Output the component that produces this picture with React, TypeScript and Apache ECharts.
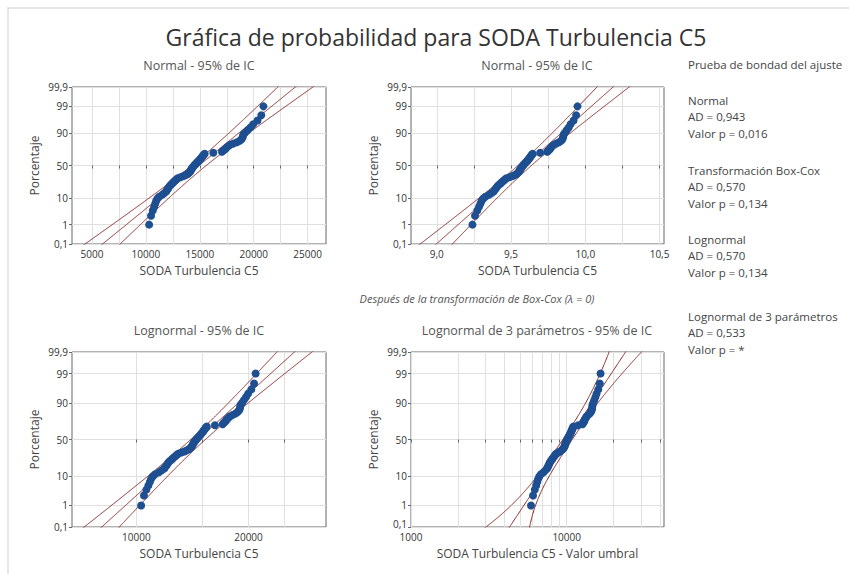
import React, { useEffect, useRef } from "react";
import * as echarts from "echarts";

// ---------------- data ----------------
const turbulence: number[] = [
  10300, 10480, 10640, 10770, 10870, 10950, 11060, 11230, 11500, 11700,
  11880, 11950, 12050, 12120, 12190, 12300, 12420, 12520, 12620, 12750,
  12850, 12950, 13200, 13450, 13650, 13850, 13950, 14050, 14100, 14150,
  14200, 14250, 14300, 14380, 14450, 14520, 14600, 14680, 14760, 14850,
  14930, 15000, 15080, 15150, 15220, 15290, 15360, 15450, 16250, 17050,
  17150, 17300, 17400, 17500, 17650, 17800, 18100, 18450, 18700, 18850,
  18950, 19000, 19050, 19250, 19450, 19700, 19950, 20350, 20700, 20900,
];
const threshold = 4400;

const probTicks = [0.1, 1, 10, 50, 90, 99, 99.9];
const probLabels = ["0,1", "1", "10", "50", "90", "99", "99,9"];

const normalLabelTicks = [5000, 10000, 15000, 20000, 25000];
const normalGridTicks = [5000, 7500, 10000, 12500, 15000, 17500, 20000, 22500, 25000];
const boxCoxLabelTicks = [9.0, 9.5, 10.0, 10.5];
const boxCoxGridTicks = [9.0, 9.25, 9.5, 9.75, 10.0, 10.25, 10.5];
const lognormalLabelTicks = [10000, 20000];
const lognormalGridTicks = [10000, 15000, 20000, 25000];
const threeParLabelTicks = [1000, 10000];
const threeParGridTicks = [1000, 2000, 3000, 4000, 5000, 6000, 7000, 8000, 9000, 10000, 20000, 30000, 40000];

const gofNames = ["Normal", "Transformación Box-Cox", "Lognormal", "Lognormal de 3 parámetros"];
const adValues = ["0,943", "0,570", "0,570", "0,533"];
const pValues = ["0,016", "0,134", "0,134", "*"];

const mainTitle = "Gráfica de probabilidad para SODA Turbulencia C5";
const panelTitles = [
  "Normal - 95% de IC",
  "Normal - 95% de IC",
  "Lognormal - 95% de IC",
  "Lognormal de 3 parámetros - 95% de IC",
];
const xNames = ["SODA Turbulencia C5", "SODA Turbulencia C5", "SODA Turbulencia C5", "SODA Turbulencia C5 - Valor umbral"];
const boxCoxNote = "Después de la transformación de Box-Cox (λ = 0)";

// ---------------- helpers ----------------
function probit(p: number): number {
  const a = [-3.969683028665376e1, 2.209460984245205e2, -2.759285104469687e2, 1.38357751867269e2, -3.066479806614716e1, 2.506628277459239];
  const b = [-5.447609879822406e1, 1.615858368580409e2, -1.556989798598866e2, 6.680131188771972e1, -1.328068155288572e1];
  const c = [-7.784894002430293e-3, -3.223964580411365e-1, -2.400758277161838, -2.549732539343734, 4.374664141464968, 2.938163982698783];
  const d = [7.784695709041462e-3, 3.224671290700398e-1, 2.445134137142996, 3.754408661907416];
  const pl = 0.02425;
  if (p < pl) {
    const q = Math.sqrt(-2 * Math.log(p));
    return (((((c[0] * q + c[1]) * q + c[2]) * q + c[3]) * q + c[4]) * q + c[5]) / ((((d[0] * q + d[1]) * q + d[2]) * q + d[3]) * q + 1);
  }
  if (p <= 1 - pl) {
    const q = p - 0.5;
    const r = q * q;
    return ((((((a[0] * r + a[1]) * r + a[2]) * r + a[3]) * r + a[4]) * r + a[5]) * q) / (((((b[0] * r + b[1]) * r + b[2]) * r + b[3]) * r + b[4]) * r + 1);
  }
  const q = Math.sqrt(-2 * Math.log(1 - p));
  return -(((((c[0] * q + c[1]) * q + c[2]) * q + c[3]) * q + c[4]) * q + c[5]) / ((((d[0] * q + d[1]) * q + d[2]) * q + d[3]) * q + 1);
}

function meanSd(v: number[]): [number, number] {
  const n = v.length;
  const m = v.reduce((s, x) => s + x, 0) / n;
  const va = v.reduce((s, x) => s + (x - m) * (x - m), 0) / n;
  return [m, Math.sqrt(va)];
}

const FONT = "'Open Sans', 'Noto Sans', sans-serif";
const LINE_COLOR = "#8a2a2a";
const POINT_COLOR = "#1d4f91";

export default function App() {
  const ref = useRef<HTMLDivElement>(null);

  useEffect(() => {
    if (!ref.current) return;
    const chart = echarts.init(ref.current, undefined, { renderer: "svg" });

    const sorted = [...turbulence].sort((a, b) => a - b);
    const n = sorted.length;
    const zPts = sorted.map((_, i) => probit((i + 1 - 0.3) / (n + 0.4)));
    const probZ = probTicks.map((p) => probit(p / 100));
    const zMin = probZ[0];
    const zMax = probZ[probZ.length - 1];
    const zLine: number[] = [];
    for (let k = -170; k <= 170; k++) zLine.push(k * 0.02);

    const normalBands = (vals: number[], toAxis: (x: number) => number) => {
      const [m, s] = meanSd(vals);
      const fit: number[][] = [], lo: number[][] = [], hi: number[][] = [];
      zLine.forEach((z) => {
        const c = m + z * s;
        const hw = 1.96 * s * Math.sqrt((1 + (z * z) / 2) / n);
        fit.push([toAxis(c), z]);
        lo.push([toAxis(c - hw), z]);
        hi.push([toAxis(c + hw), z]);
      });
      return [fit, lo, hi];
    };

    const lnVals = sorted.map((v) => Math.log(v));
    const bands1 = normalBands(sorted, (x) => x);
    const bands2 = normalBands(lnVals, (x) => x);
    const bands3 = normalBands(lnVals, (x) => x / Math.LN10);

    // 3-parameter lognormal: CI of ln(percentile) with expected-information covariance
    const shifted = sorted.map((v) => Math.log(v - threshold));
    const [mu, sg] = meanSd(shifted);
    const w = sg * sg;
    const E1 = Math.exp(-mu + w / 2);
    const E2 = Math.exp(-2 * mu + w);
    const D = E2 * ((Math.exp(w) * (1 + w) - 1) / w - 2);
    const bd = E1;
    const cf = -sg * E1;
    const Vtt = 1 / (D * n);
    const Vtm = -bd / (D * n);
    const Vts = -cf / (D * n);
    const Vmm = (w + (bd * bd) / D) / n;
    const Vss = (w / 2 + (cf * cf) / D) / n;
    const Vms = (bd * cf) / (D * n);
    const fit4: number[][] = [], lo4: number[][] = [], hi4: number[][] = [];
    zLine.forEach((z) => {
      const e = Math.exp(mu + sg * z);
      const xp = threshold + e;
      const s2 = Vtt + 2 * e * (Vtm + z * Vts) + e * e * (Vmm + 2 * z * Vms + z * z * Vss);
      const k = (1.96 * Math.sqrt(Math.max(s2, 0))) / xp;
      const U = xp * Math.exp(k) - threshold;
      const L = xp * Math.exp(-k) - threshold;
      fit4.push([Math.log10(e), z]);
      if (U > 0) hi4.push([Math.log10(U), z]);
      if (L > 0) lo4.push([Math.log10(L), z]);
    });

    const pts1 = sorted.map((v, i) => [v, zPts[i]]);
    const pts2 = sorted.map((v, i) => [Math.log(v), zPts[i]]);
    const pts3 = sorted.map((v, i) => [Math.log10(v), zPts[i]]);
    const pts4 = sorted.map((v, i) => [Math.log10(v - threshold), zPts[i]]);

    const grids = [
      { left: 72, top: 87, width: 254, height: 157 },
      { left: 411, top: 87, width: 253, height: 157 },
      { left: 72, top: 352, width: 254, height: 175 },
      { left: 411, top: 352, width: 253, height: 175 },
    ].map((g) => ({ ...g, show: true, borderColor: "#666666", borderWidth: 1, backgroundColor: "#ffffff" }));

    const near = (a: number, b: number) => Math.abs(a - b) < 1e-6;

    const yAxes = [0, 1, 2, 3].map((gi) => ({
      type: "value",
      gridIndex: gi,
      min: zMin,
      max: zMax,
      name: "Porcentaje",
      nameLocation: "middle",
      nameGap: 32,
      nameTextStyle: { fontSize: 12, color: "#444", fontFamily: FONT },
      axisLine: { show: false },
      axisTick: { show: true, length: 3, customValues: probZ, lineStyle: { color: "#666666" } },
      axisLabel: {
        customValues: probZ,
        fontSize: 10,
        color: "#333",
        margin: 4,
        fontFamily: FONT,
        showMinLabel: true,
        showMaxLabel: true,
        hideOverlap: false,
        formatter: (v: number) => {
          const idx = probZ.findIndex((z) => near(z, v));
          if (idx < 0) return "";
          if (gi === 3 && idx === 0) return "{lo|" + probLabels[idx] + "}";
          return probLabels[idx];
        },
        rich: { lo: { fontSize: 10, color: "#333", fontFamily: FONT, padding: [0, 0, 7, 0] } },
      },
      splitLine: { show: true, lineStyle: { color: "#e0e0e0", width: 1 } },
    }));

    const xAxisBase = (gi: number, min: number, max: number, grid: number[], labels: number[], fmt: (v: number) => string) => ({
      type: "value",
      gridIndex: gi,
      min,
      max,
      name: xNames[gi],
      nameLocation: "middle",
      nameGap: 20,
      nameTextStyle: { fontSize: 12, color: "#444", fontFamily: FONT },
      axisLine: { show: false },
      axisTick: { show: true, length: 3, customValues: grid, lineStyle: { color: "#666666" } },
      axisLabel: {
        customValues: labels,
        fontSize: 10,
        color: "#333",
        margin: 5,
        fontFamily: FONT,
        showMinLabel: true,
        showMaxLabel: true,
        formatter: fmt,
      },
      splitLine: { show: true, lineStyle: { color: "#e0e0e0", width: 1 } },
    });

    const xAxes = [
      xAxisBase(0, 3150, 26700, normalGridTicks, normalLabelTicks, (v) => String(Math.round(v))),
      xAxisBase(1, 8.826, 10.53, boxCoxGridTicks, boxCoxLabelTicks, (v) => v.toFixed(1).replace(".", ",")),
      xAxisBase(
        2,
        3.8273,
        4.509,
        lognormalGridTicks.map((v) => Math.log10(v)),
        lognormalLabelTicks.map((v) => Math.log10(v)),
        (v) => String(Math.round(Math.pow(10, v)))
      ),
      xAxisBase(
        3,
        3,
        3 + 253 / 155.7,
        threeParGridTicks.map((v) => Math.log10(v)),
        threeParLabelTicks.map((v) => Math.log10(v)),
        (v) => String(Math.round(Math.pow(10, v)))
      ),
    ];

    const lineSeries = (gi: number, data: number[][]) => ({
      type: "line",
      xAxisIndex: gi,
      yAxisIndex: gi,
      data,
      showSymbol: false,
      symbol: "none",
      clip: true,
      silent: true,
      z: 2,
      lineStyle: { color: LINE_COLOR, width: 1 },
    });
    const scatterSeries = (gi: number, data: number[][]) => ({
      type: "scatter",
      xAxisIndex: gi,
      yAxisIndex: gi,
      data,
      symbolSize: 8,
      clip: true,
      z: 3,
      itemStyle: { color: POINT_COLOR, borderWidth: 0, opacity: 1 },
    });

    const allBands = [bands1, bands2, bands3, [fit4, lo4, hi4]];
    const allPts = [pts1, pts2, pts3, pts4];
    const series: any[] = [];
    allBands.forEach((b, gi) => {
      b.forEach((d) => series.push(lineSeries(gi, d)));
      series.push(scatterSeries(gi, allPts[gi]));
    });

    const panelCenters = [
      [199, 65],
      [537, 65],
      [199, 330],
      [537, 330],
    ];

    const graphic: any[] = [
      {
        type: "rect",
        silent: true,
        z: -10,
        shape: { x: 8, y: 8, width: 900, height: 700 },
        style: { fill: "none", stroke: "#dedede", lineWidth: 1.5 },
      },
      {
        type: "text",
        x: 436,
        y: 37,
        style: { text: mainTitle, fontSize: 23, fill: "#333", align: "center", verticalAlign: "middle", fontFamily: FONT },
      },
      {
        type: "text",
        x: 477,
        y: 298,
        style: { text: boxCoxNote, fontSize: 11, fontStyle: "italic", fill: "#555", align: "center", verticalAlign: "middle", fontFamily: FONT },
      },
      {
        type: "text",
        x: 688,
        y: 64,
        style: { text: "Prueba de bondad del ajuste", fontSize: 11.5, fill: "#444", align: "left", verticalAlign: "middle", fontFamily: FONT },
      },
    ];
    panelTitles.forEach((t, i) => {
      graphic.push({
        type: "text",
        x: panelCenters[i][0],
        y: panelCenters[i][1],
        style: { text: t, fontSize: 12.5, fill: "#555", align: "center", verticalAlign: "middle", fontFamily: FONT },
      });
    });
    const groupTops = [100, 170, 239, 316];
    gofNames.forEach((name, i) => {
      const lines = [name, "AD = " + adValues[i], "Valor p = " + pValues[i]];
      lines.forEach((t, j) => {
        graphic.push({
          type: "text",
          x: 688,
          y: groupTops[i] + j * 16.7,
          style: { text: t, fontSize: 11.5, fill: "#444", align: "left", verticalAlign: "middle", fontFamily: FONT },
        });
      });
    });

    chart.setOption({
      animation: false,
      backgroundColor: "#ffffff",
      textStyle: { fontFamily: FONT },
      grid: grids,
      xAxis: xAxes,
      yAxis: yAxes,
      series,
      graphic,
    });

    return () => chart.dispose();
  }, []);

  return (
    <div
      ref={ref}
      style={{ position: "fixed", left: 0, top: 0, width: 849, height: 574, background: "#fff" }}
    />
  );
}
